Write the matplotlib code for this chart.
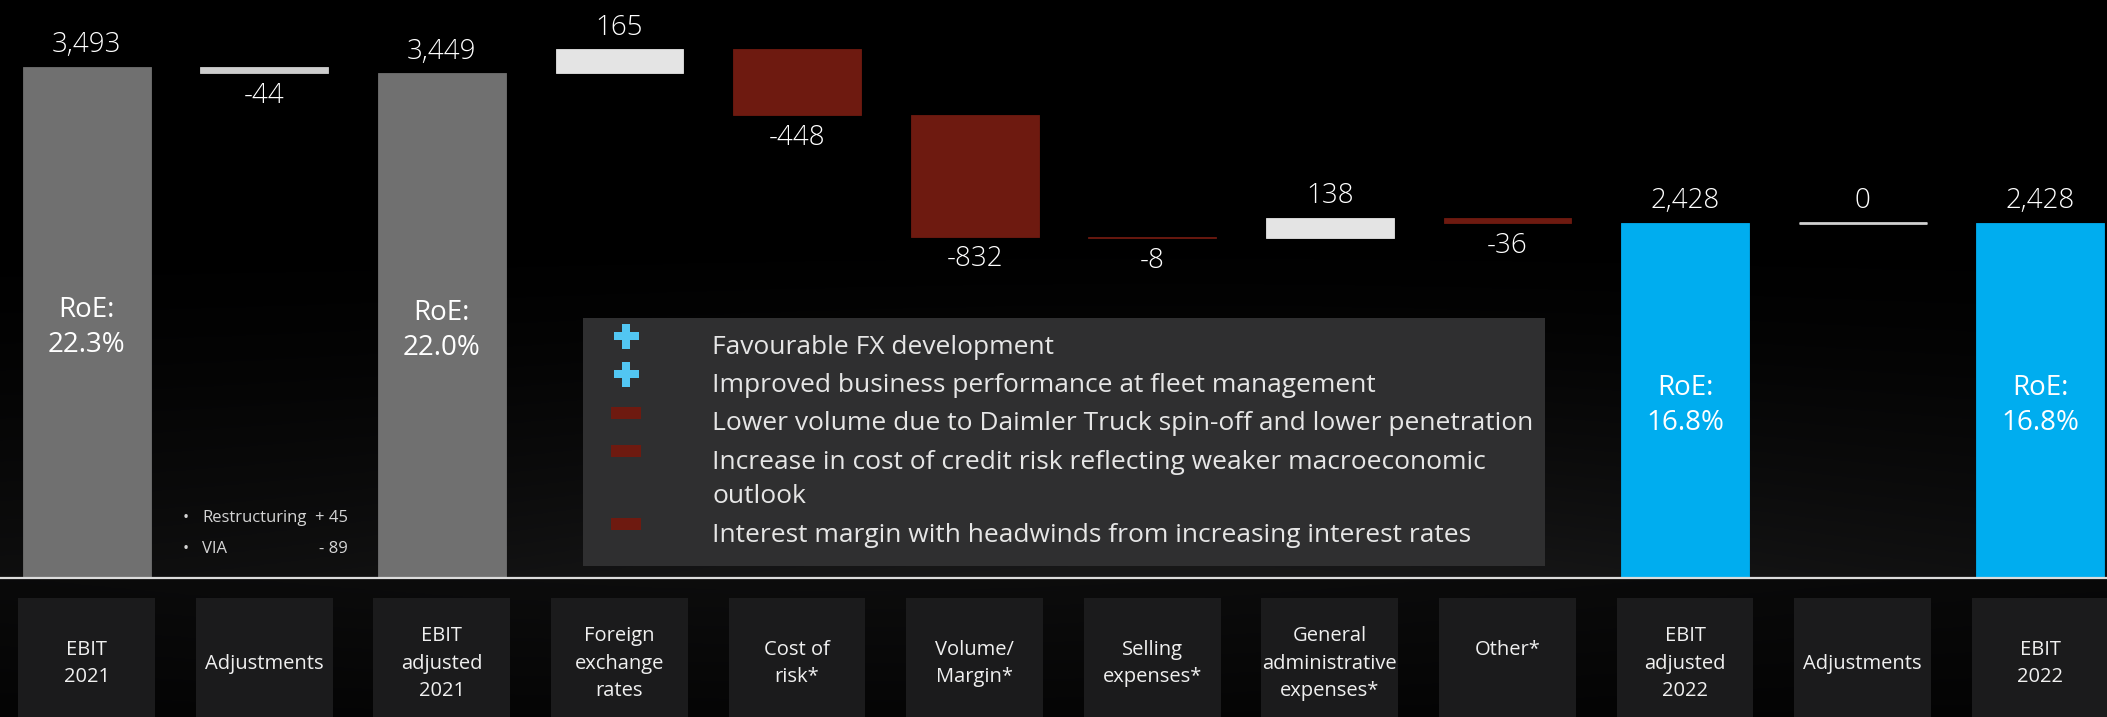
import numpy as np
import matplotlib.pyplot as plt
from matplotlib.patches import Rectangle
from matplotlib import font_manager as fm

# fuente: Open Sans si esta instalada
names = {f.name for f in fm.fontManager.ttflist}
if 'Open Sans' in names:
    plt.rcParams['font.family'] = ['Open Sans', 'DejaVu Sans']

# ---------------- datos ----------------
categories = ["EBIT\n2021", "Adjustments", "EBIT\nadjusted\n2021", "Foreign\nexchange\nrates",
              "Cost of\nrisk*", "Volume/\nMargin*", "Selling\nexpenses*",
              "General\nadministrative\nexpenses*", "Other*\n", "EBIT\nadjusted\n2022",
              "Adjustments", "EBIT\n2022"]
values = [3493, -44, 3449, 165, -448, -832, -8, 138, -36, 2428, 0, 2428]
kinds = ["total", "adj", "total", "delta", "delta", "delta", "delta", "delta", "delta",
         "total", "adj", "total"]
value_labels = ["3,493", "-44", "3,449", "165", "-448", "-832", "-8", "138", "-36",
                "2,428", "0", "2,428"]
roe_labels = ["22.3%", "", "22.0%", "", "", "", "", "", "", "16.8%", "", "16.8%"]

drivers = ["Favourable FX development",
           "Improved business performance at fleet management",
           "Lower volume due to Daimler Truck spin-off and lower penetration",
           "Increase in cost of credit risk reflecting weaker macroeconomic\noutlook",
           "Interest margin with headwinds from increasing interest rates"]
driver_signs = ["+", "+", "-", "-", "-"]

adj_items = ["Restructuring", "VIA"]
adj_values = ["+ 45", "- 89"]

# ---------------- calculo cascada ----------------
bottoms, heights, colors, tops = [], [], [], []
running = 0
for i, (v, k) in enumerate(zip(values, kinds)):
    if k == "total":
        bottoms.append(0)
        heights.append(v)
        running = v
        colors.append('#707070' if i < 5 else '#00adef')
    else:
        bottoms.append(running + min(v, 0))
        heights.append(abs(v))
        running += v
        if k == "adj":
            colors.append('#cdcdcd')
        elif v > 0:
            colors.append('#e4e4e4')
        else:
            colors.append('#6e1a10')
    tops.append(running if k != "total" else v)

x = np.arange(len(values))

fig = plt.figure(figsize=(21.07, 7.17), dpi=100)
fig.patch.set_facecolor('black')
ax = fig.add_axes([0, 0, 1, 1])
ax.axis('off')

# fondo con degradado
H, W = 300, 600
yy, xx = np.mgrid[0:1:H * 1j, 0:1:W * 1j]
base_y = 578 / 717
top_part = 0.095 * np.clip((yy - 0.3) / (base_y - 0.3), 0, 1) ** 1.5 * \
    (0.55 + 0.45 * np.exp(-((xx - 0.55) / 0.35) ** 2))
t = np.clip((yy - base_y) / (1 - base_y), 0, 1)
bot_part = 0.05 * (1 - 0.6 * t) * (0.6 + 0.4 * np.exp(-((xx - 0.4) / 0.45) ** 2))
bright = np.where(yy < base_y, top_part, bot_part)
img = np.dstack([bright, bright, bright * 1.02])
ax.imshow(np.clip(img, 0, 1), extent=(0, 1, 0, 1), transform=ax.transAxes,
          aspect='auto', zorder=0)

ymin, ymax = -950, 3951

# cajas de categorias
box_top = -137
ax.bar(x, box_top - ymin, bottom=ymin, width=0.77, color='#1b1b1c', zorder=1)
for i, c in enumerate(categories):
    ax.text(i, -585, c, ha='center', va='center', fontsize=14.5, color='#f0f0f0',
            linespacing=1.48, zorder=4)

# barras
ax.bar(x, heights, bottom=bottoms, width=0.72, color=colors, edgecolor=colors,
       linewidth=0.6, zorder=3)
for i, (v, k) in enumerate(zip(values, kinds)):
    if k == "adj" and v == 0:
        ax.hlines(tops[i], i - 0.36, i + 0.36, color='#d0d0d0', lw=2, zorder=3)

# etiquetas de valores
for i, (v, k) in enumerate(zip(values, kinds)):
    if k == "total" or v >= 0:
        y, off = bottoms[i] + heights[i], 15.5
    else:
        y, off = bottoms[i], -16.5
    ax.annotate(value_labels[i], (i, y), xytext=(0, off), textcoords='offset points',
                ha='center', va='center', fontsize=20, fontweight='light',
                color='white', zorder=5)

# RoE
for i, r in enumerate(roe_labels):
    if r:
        ax.annotate("RoE:\n" + r, (i, values[i] * 0.5), xytext=(0, -3.5),
                    textcoords='offset points', ha='center', va='center',
                    fontsize=20, color='white', linespacing=1.32, zorder=5)

# linea base
ax.axhline(0, color='#dcdcdc', lw=1.6, zorder=4)

# recuadro de factores
ax.add_patch(Rectangle((583 / 2107, 1 - 566 / 717), (1545 - 583) / 2107, (566 - 318) / 717,
                       transform=ax.transAxes, facecolor='#2f2f30', edgecolor='none', zorder=2))
rect_marker = [(-1.25, -0.5), (1.25, -0.5), (1.25, 0.5), (-1.25, 0.5), (-1.25, -0.5)]
ypix = 347
for d, s in zip(drivers, driver_signs):
    nlines = d.count("\n") + 1
    yc = ypix + (nlines - 1) * 34 / 2
    ax.text(712 / 2107, 1 - yc / 717, d, transform=ax.transAxes, ha='left', va='center',
            fontsize=19, color='#e6e6e6', linespacing=1.45, zorder=5)
    my = 1 - (ypix - 11) / 717
    if s == "+":
        ax.plot(626 / 2107, my, marker='P', ms=18, color='#52c6f2', mew=0,
                transform=ax.transAxes, zorder=5)
    else:
        ax.plot(626 / 2107, my, marker=rect_marker, ms=22, color='#6e1a10', mew=0,
                transform=ax.transAxes, zorder=5)
    ypix += 38.5 + (nlines - 1) * 34

# nota de ajustes
for j, (it, val) in enumerate(zip(adj_items, adj_values)):
    yy_ = 1 - (518 + 31 * j) / 717
    ax.text(186 / 2107, yy_, "\u2022", transform=ax.transAxes, ha='center', va='center',
            fontsize=11.5, color='#d5d5d5', zorder=5)
    ax.text(202 / 2107, yy_, it, transform=ax.transAxes, ha='left', va='center',
            fontsize=12, color='#d5d5d5', zorder=5)
    ax.text(348 / 2107, yy_, val, transform=ax.transAxes, ha='right', va='center',
            fontsize=12, color='#d5d5d5', zorder=5)

ax.set_xlim(-0.488, 11.376)
ax.set_ylim(ymin, ymax)

fig.savefig('out.png', dpi=100, facecolor=fig.get_facecolor())
